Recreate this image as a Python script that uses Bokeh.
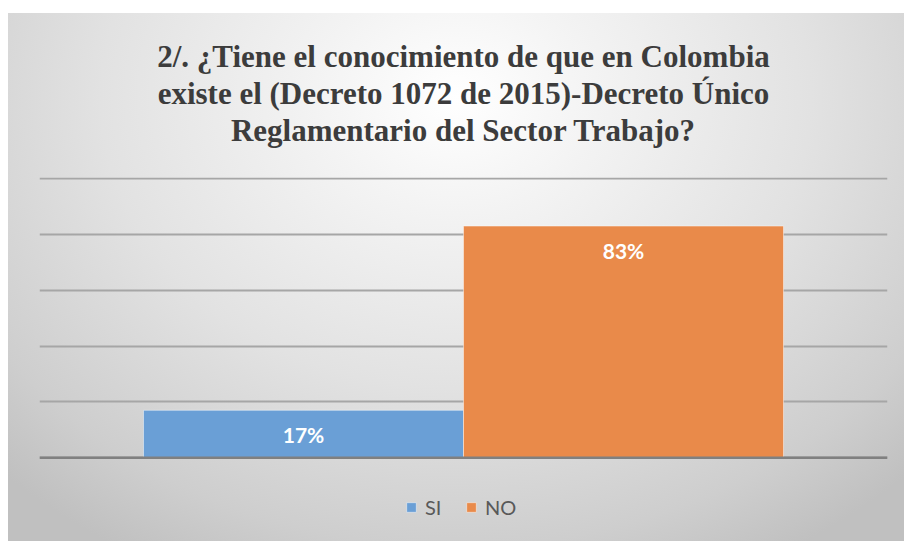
from bokeh.plotting import figure
from bokeh.models import (ColumnDataSource, FactorRange, Title, Legend, LegendItem,
                          Span, FixedTicker)
from bokeh.core.properties import value
from bokeh.embed import file_html
from bokeh.resources import INLINE

# ---- data ----
categories = ["SI", "NO"]
values = [0.17, 0.83]
labels = ["17%", "83%"]
colors = ["#6A9FD6", "#E98A4A"]
title_lines = [
    "2/. ¿Tiene el conocimiento de que en Colombia",
    "existe el (Decreto 1072 de 2015)-Decreto Único",
    "Reglamentario del Sector Trabajo?",
]
y_ticks = [0.0, 0.2, 0.4, 0.6, 0.8, 1.0]

src = ColumnDataSource(dict(cat=categories, val=values, lab=labels, col=colors))

# the plot area extends below zero so that the legend sits inside it
p = figure(width=904, height=541, output_backend="svg", toolbar_location=None,
           x_range=FactorRange(factors=categories, range_padding=0.325),
           y_range=(-0.30, 1.004),
           min_border_left=39, min_border_right=17, min_border_top=177,
           min_border_bottom=0)

p.background_fill_alpha = 0
p.border_fill_alpha = 0
p.outline_line_color = None
p.styles = {
    "background-image": "radial-gradient(ellipse 72% 100% at 50% 16%, #ffffff 0%, #f3f3f3 22%, #e2e2e2 55%, #cecece 85%, #c0c0c0 100%)",
    "background-position": "8px 13px",
    "background-size": "calc(100% - 8px) calc(100% - 13px)",
    "background-repeat": "no-repeat",
}

p.xaxis.visible = False
p.yaxis.visible = False
p.xgrid.grid_line_color = None
p.ygrid.ticker = FixedTicker(ticks=y_ticks)
p.ygrid.grid_line_color = "#A6A6A6"
p.ygrid.grid_line_width = 2

base = Span(location=0, dimension="width", line_color="#808080", line_width=2.5)
p.add_layout(base)

r = p.vbar(x="cat", top="val", width=1.0, source=src, fill_color="col",
           line_color="#FFFFFF", line_alpha=0.45, line_width=1)

p.text(x="cat", y="val", text="lab", source=src, text_color="white",
       text_font=value("Lato"), text_font_style="bold", text_font_size="21px",
       text_align="center", text_baseline="middle", y_offset=24)

# spacer between plot area and last title line
p.add_layout(Title(text=" ", text_font_size="24px", standoff=1), "above")
for line in reversed(title_lines):
    t = Title(text=line, align="center", text_font="Liberation Serif",
              text_font_style="bold", text_font_size="31px", text_color="#3C3C3C",
              standoff=0)
    p.add_layout(t, "above")

legend = Legend(items=[LegendItem(label=c, renderers=[r], index=i) for i, c in enumerate(categories)],
                orientation="horizontal", location=(366, 22),
                label_text_font="Lato", label_text_font_size="20px", label_text_color="#595959",
                glyph_width=12, glyph_height=12, label_standoff=8, spacing=20,
                background_fill_alpha=0, border_line_color=None, padding=10, margin=0)
p.add_layout(legend, "center")

open("out.html", "w").write(file_html(p, INLINE))
